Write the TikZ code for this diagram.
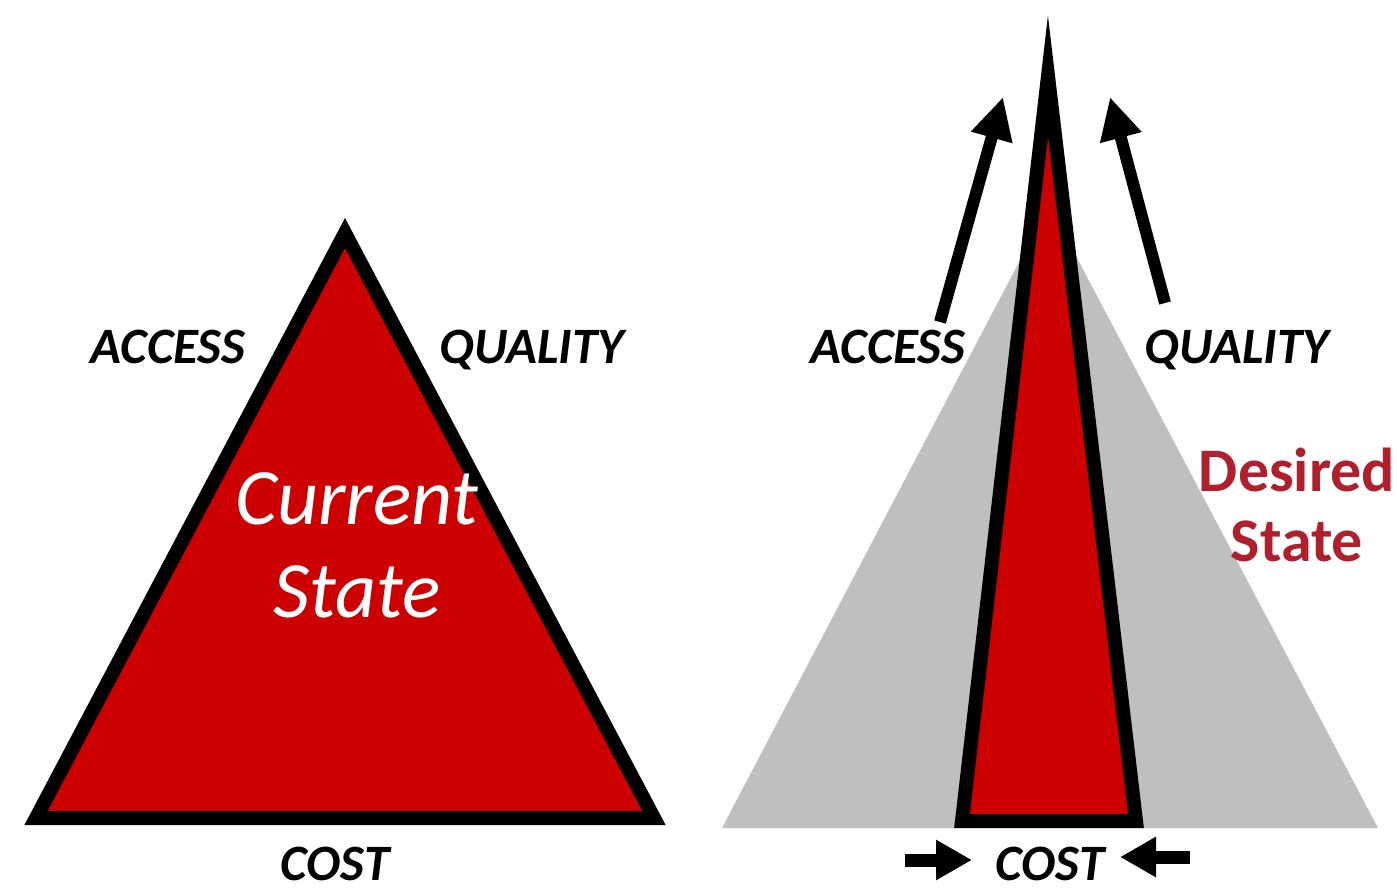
\documentclass[tikz,border=0pt]{standalone}
\usepackage{fontspec}
\setmainfont{Carlito}
\usetikzlibrary{arrows.meta, positioning}
\definecolor{trired}{HTML}{CC0000}
\definecolor{trigray}{HTML}{BFBFBF}
\definecolor{desred}{HTML}{B0202C}

\begin{document}
\begin{tikzpicture}[x=1pt, y=-1pt, line join=miter,
  edge/.style={draw=black, fill=trired, line width=14pt},
  lbl/.style={font=\fontsize{51}{51}\selectfont\bfseries\itshape, inner sep=0pt, anchor=base},
  push/.style={line width=12pt, -{Triangle[length=42pt, width=40pt]}},
  squeeze/.style={line width=13pt, -{Triangle[length=36pt, width=38pt]}}]
  \useasboundingbox (0,0) rectangle (1397,892);

  % current state
  \coordinate (ct) at (345,233);
  \coordinate (cl) at (36,818);
  \coordinate (cr) at (654,818);
  \draw[edge] (ct) -- (cl) -- (cr) -- cycle;
  \node[lbl] (acc1) at (168,363) {ACCESS};
  \node[lbl] (qual1) at (532,363) {QUALITY};
  \node[lbl] (cost1) at (335,880) {COST};
  \node[text=white, font=\fontsize{80}{93}\selectfont\itshape, align=center, inner sep=0pt] (cur) at (357,545) {Current\\State};

  % desired state
  \coordinate (gt) at (1049,205);
  \coordinate (gl) at (722,828);
  \coordinate (gr) at (1378,828);
  \fill[trigray] (gt) -- (gl) -- (gr) -- cycle;
  \coordinate (dt) at (1048,76);
  \coordinate (dl) at (962,821);
  \coordinate (dr) at (1136,821);
  \draw[edge] (dt) -- (dl) -- (dr) -- cycle;
  \node[lbl] (acc2) at (888,363) {ACCESS};
  \node[lbl] (qual2) at (1237,363) {QUALITY};
  \node[lbl] (cost2) at (1050,880) {COST};
  \node[text=desred, font=\fontsize{62}{70}\selectfont\bfseries, align=center, inner sep=0pt] (des) at (1297,505) {Desired\\State};

  % arrows
  \coordinate (a1) at (940,322);
  \coordinate (a2) at (1003,97);
  \coordinate (q1) at (1165,303);
  \coordinate (q2) at (1110,97);
  \draw[push] (a1) -- (a2);
  \draw[push] (q1) -- (q2);
  \coordinate (s1) at (905,860);
  \coordinate (s2) at (972,860);
  \coordinate (s3) at (1190,857);
  \coordinate (s4) at (1120,857);
  \draw[squeeze] (s1) -- (s2);
  \draw[squeeze] (s3) -- (s4);
\end{tikzpicture}
\end{document}
